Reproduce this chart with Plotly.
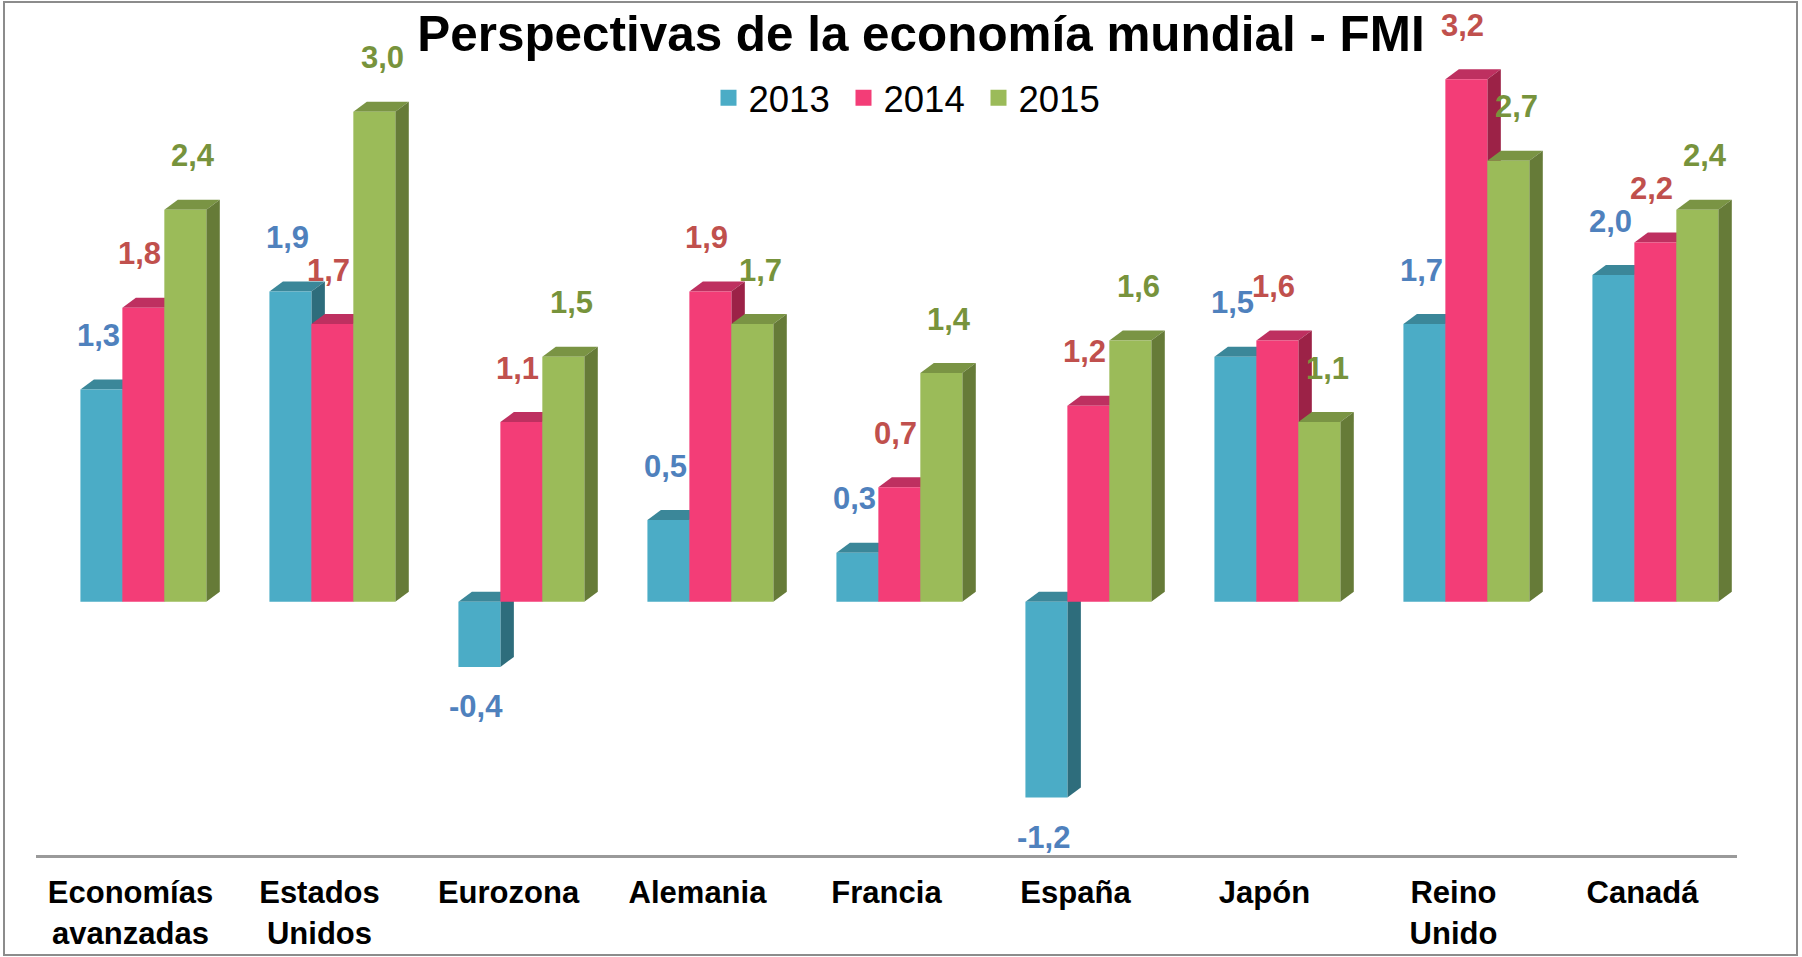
import plotly.graph_objects as go

# ---------------- data ----------------
categories = ["Economías<br>avanzadas", "Estados<br>Unidos", "Eurozona", "Alemania",
              "Francia", "España", "Japón", "Reino<br>Unido", "Canadá"]
series_names = ["2013", "2014", "2015"]
values_2013 = [1.3, 1.9, -0.4, 0.5, 0.3, -1.2, 1.5, 1.7, 2.0]
values_2014 = [1.8, 1.7, 1.1, 1.9, 0.7, 1.2, 1.6, 3.2, 2.2]
values_2015 = [2.4, 3.0, 1.5, 1.7, 1.4, 1.6, 1.1, 2.7, 2.4]
title_text = "Perspectivas de la economía mundial - FMI"

# ---------------- styles ----------------
front_colors = ["#4BACC6", "#F33D77", "#9BBB59"]
top_colors = ["#3B8799", "#BE3060", "#7A9444"]
side_colors = ["#2E6D7C", "#9C2247", "#667B38"]
label_colors = ["#4F81BD", "#C0504D", "#77933C"]
label_dx_px = [-3, -4, 8]

W, H = 1802, 957
M_L, M_R, M_T, M_B = 36, 65, 20, 102
Y_MIN, Y_MAX = -1.5515, 3.5621
plot_w = W - M_L - M_R
plot_h = H - M_T - M_B
px_per_cat = plot_w / len(categories)
px_per_unit = plot_h / (Y_MAX - Y_MIN)

BAR_W = 0.222
FIRST_OFF = -0.265
DX = 13.5 / px_per_cat
DY = 10.0 / px_per_unit

all_values = [values_2013, values_2014, values_2015]

fig = go.Figure()
for s, (name, vals) in enumerate(zip(series_names, all_values)):
    fig.add_trace(go.Bar(
        x=categories, y=vals, name=name, showlegend=False,
        width=BAR_W, offset=FIRST_OFF + s * BAR_W,
        marker=dict(color=front_colors[s], line=dict(width=0)),
        hoverinfo="x+y+name",
    ))
# legend entries (larger square swatches)
for s, name in enumerate(series_names):
    fig.add_trace(go.Scatter(
        x=[None], y=[None], name=name, mode="markers",
        marker=dict(symbol="square", size=16, color=front_colors[s]),
        showlegend=True, hoverinfo="skip",
    ))

shapes = []
annotations = []
for i in range(len(categories)):
    for s, vals in enumerate(all_values):
        v = vals[i]
        xl = i + FIRST_OFF + s * BAR_W
        xr = xl + BAR_W
        top = max(v, 0)
        bot = min(v, 0)
        shapes.append(dict(
            type="path", xref="x", yref="y", layer="below",
            path=f"M{xl},{top} L{xl+DX},{top+DY} L{xr+DX},{top+DY} L{xr},{top} Z",
            fillcolor=top_colors[s], line=dict(width=0)))
        shapes.append(dict(
            type="path", xref="x", yref="y", layer="below",
            path=f"M{xr},{top} L{xr+DX},{top+DY} L{xr+DX},{bot+DY} L{xr},{bot} Z",
            fillcolor=side_colors[s], line=dict(width=0)))
        annotations.append(dict(
            x=xl + BAR_W / 2 + label_dx_px[s] / px_per_cat, y=v,
            xref="x", yref="y", showarrow=False,
            text=f"{v:.1f}".replace(".", ","),
            yshift=54 if v >= 0 else -40,
            xanchor="center", yanchor="middle",
            font=dict(family="Liberation Sans", size=31, color=label_colors[s], weight="bold"),
        ))

# chart border
shapes.append(dict(type="rect", xref="paper", yref="paper", layer="above",
                   x0=(4 - M_L) / plot_w, x1=(1797 - M_L) / plot_w,
                   y0=(H - M_B - 955) / plot_h, y1=(H - M_B - 2) / plot_h,
                   line=dict(color="#8C8C8C", width=2), fillcolor="rgba(0,0,0,0)"))

fig.update_layout(
    width=W, height=H,
    margin=dict(l=M_L, r=M_R, t=M_T, b=M_B, autoexpand=False),
    paper_bgcolor="white", plot_bgcolor="white",
    barmode="overlay",
    title=dict(text=title_text, x=921 / W, xanchor="center", xref="container",
               y=1 - 34 / H, yanchor="middle", yref="container", automargin=False,
               font=dict(family="Liberation Sans", size=49.4, color="black", weight="bold")),
    legend=dict(orientation="h", x=(911 - M_L) / plot_w, xanchor="center", xref="paper",
                y=(H - M_B - 98) / plot_h, yanchor="middle", yref="paper",
                font=dict(family="Liberation Sans", size=36.5, color="black"),
                entrywidth=90, entrywidthmode="pixels",
                bgcolor="rgba(0,0,0,0)"),
    xaxis=dict(type="category", showgrid=False, zeroline=False, showline=True,
               linecolor="#9A9A9A", linewidth=3, ticks="", ticklabelstandoff=8,
               tickfont=dict(family="Liberation Sans", size=31, color="black", weight="bold"),
               range=[-0.5, len(categories) - 0.5], fixedrange=True),
    yaxis=dict(range=[Y_MIN, Y_MAX], visible=False, showgrid=False, zeroline=False,
               fixedrange=True),
    shapes=shapes,
    annotations=annotations,
    showlegend=True,
)

fig.write_html("out.html", config={"displayModeBar": False},
               post_script="document.body.style.margin='0px';document.body.style.overflow='hidden';")
